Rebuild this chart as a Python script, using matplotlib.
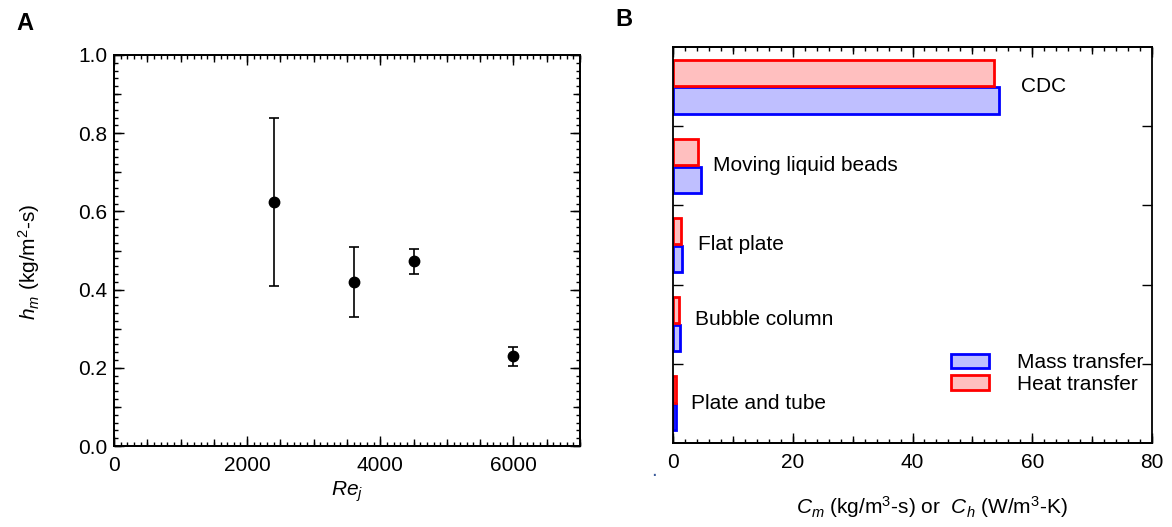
import numpy as np
import matplotlib
matplotlib.use("Agg")
import matplotlib.pyplot as plt
from matplotlib.patches import Patch
from matplotlib.ticker import MultipleLocator, FormatStrFormatter

plt.rcParams['font.family'] = ['Liberation Sans', 'DejaVu Sans']
plt.rcParams['mathtext.fontset'] = 'custom'
plt.rcParams['mathtext.rm'] = 'Liberation Sans'
plt.rcParams['mathtext.it'] = 'Liberation Sans:italic'
plt.rcParams['mathtext.bf'] = 'Liberation Sans:bold'

# ---------------- data ----------------
re_j = [2400, 3600, 4500, 6000]
h_m = [0.625, 0.420, 0.472, 0.229]
h_m_err = [0.215, 0.090, 0.032, 0.024]

categories = ["Plate and tube", "Bubble column", "Flat plate", "Moving liquid beads", "CDC"]
mass_transfer = [0.55, 1.2, 1.5, 4.6, 54.4]
heat_transfer = [0.55, 1.0, 1.3, 4.1, 53.6]
label_x = [3.0, 3.65, 4.1, 6.6, 58.1]
label_dy = [0.0, 0.06, 0.0, 0.0, 0.0]

FS = 15
fig = plt.figure(figsize=(11.72, 5.27), dpi=100)

# ---------------- panel A ----------------
axA = fig.add_axes([114/1172, 1-446/527, (580-114)/1172, (446-55)/527])
axA.errorbar(re_j, h_m, yerr=h_m_err, fmt='o', color='black', ms=7.5,
             elinewidth=1.2, capsize=3.8, capthick=1.2)
axA.set_xlim(0, 7000)
axA.set_ylim(0, 1.0)
axA.xaxis.set_major_locator(MultipleLocator(2000))
axA.xaxis.set_minor_locator(MultipleLocator(100))
axA.yaxis.set_major_locator(MultipleLocator(0.2))
axA.yaxis.set_minor_locator(MultipleLocator(0.02))
axA.yaxis.set_major_formatter(FormatStrFormatter('%.1f'))
axA.tick_params(which='both', direction='in', top=True, right=True, width=1.0,
                labelsize=FS, color='black')
axA.tick_params(which='major', length=7.2)
axA.tick_params(which='minor', length=3.2)
axA.tick_params(axis='x', pad=7)
axA.tick_params(axis='y', pad=5)
for loc in ['bottom', 'top']:
    s = axA.secondary_xaxis(loc)
    s.set_xticks(np.arange(0, 7001, 500))
    s.tick_params(direction='in', length=5, width=1.0, labelbottom=False, labeltop=False)
    s.spines[loc].set_linewidth(1.3)
for loc in ['left', 'right']:
    s = axA.secondary_yaxis(loc)
    s.set_yticks(np.arange(0, 1.001, 0.1))
    s.tick_params(direction='in', length=5, width=1.0, labelleft=False, labelright=False)
    s.spines[loc].set_linewidth(1.3)
for sp in axA.spines.values():
    sp.set_linewidth(1.3)
axA.set_xlabel(r'$Re_j$', fontsize=FS)
axA.set_ylabel(r'$h_m$ (kg/m$^2$-s)', fontsize=FS)
axA.xaxis.set_label_coords(0.5, -0.085)
axA.yaxis.set_label_coords(-0.155, 0.47)

# ---------------- panel B ----------------
axB = fig.add_axes([673/1172, 1-443/527, (1152-673)/1172, (443-47)/527])
ypos = np.arange(len(categories)) + 0.5
off = 0.175
hgt = 0.33
axB.barh(ypos - off, mass_transfer, height=hgt, color='#bfbfff', edgecolor='#0000ff',
         linewidth=2.0, label='Mass transfer')
axB.barh(ypos + off, heat_transfer, height=hgt, color='#ffbfbf', edgecolor='#ff0000',
         linewidth=2.0, label='Heat transfer')
for cat, x, y, dy in zip(categories, label_x, ypos, label_dy):
    axB.text(x, y + dy, cat, fontsize=FS, ha='left', va='center')
axB.set_xlim(0, 80)
axB.set_ylim(0, 5)
axB.xaxis.set_major_locator(MultipleLocator(20))
axB.xaxis.set_minor_locator(MultipleLocator(2))
axB.set_yticks([1, 2, 3, 4])
axB.set_yticklabels([])
axB.tick_params(which='both', direction='in', top=True, right=True, width=1.0,
                labelsize=FS, color='black')
axB.tick_params(which='major', length=7.2)
axB.tick_params(which='minor', length=3.2)
axB.tick_params(axis='x', pad=7)
for loc in ['bottom', 'top']:
    s = axB.secondary_xaxis(loc)
    s.set_xticks(np.arange(0, 81, 10))
    s.tick_params(direction='in', length=5, width=1.0, labelbottom=False, labeltop=False)
    s.spines[loc].set_linewidth(1.3)
for sp in axB.spines.values():
    sp.set_linewidth(1.3)
axB.set_xlabel(r'$C_m$ (kg/m$^3$-s) or  $C_h$ (W/m$^3$-K)', fontsize=FS)
axB.xaxis.set_label_coords(0.54, -0.13)
handles = [Patch(facecolor='#bfbfff', edgecolor='#0000ff', linewidth=2.0),
           Patch(facecolor='#ffbfbf', edgecolor='#ff0000', linewidth=2.0)]
axB.legend(handles, ['Mass transfer', 'Heat transfer'], loc='center left',
           bbox_to_anchor=(0.58, 0.1755), frameon=False, fontsize=FS,
           handlelength=1.83, handleheight=0.7, handletextpad=1.33,
           labelspacing=0.1, borderpad=0, borderaxespad=0)

fig.text(654/1172, 1-470/527, '.', color='#3a5a9a', fontsize=FS, ha='center', va='center')
fig.text(25/1172, 1-23/527, 'A', fontsize=17, fontweight='bold', ha='center', va='center')
fig.text(624/1172, 1-19/527, 'B', fontsize=17, fontweight='bold', ha='center', va='center')

fig.savefig('out.png', dpi=100)
